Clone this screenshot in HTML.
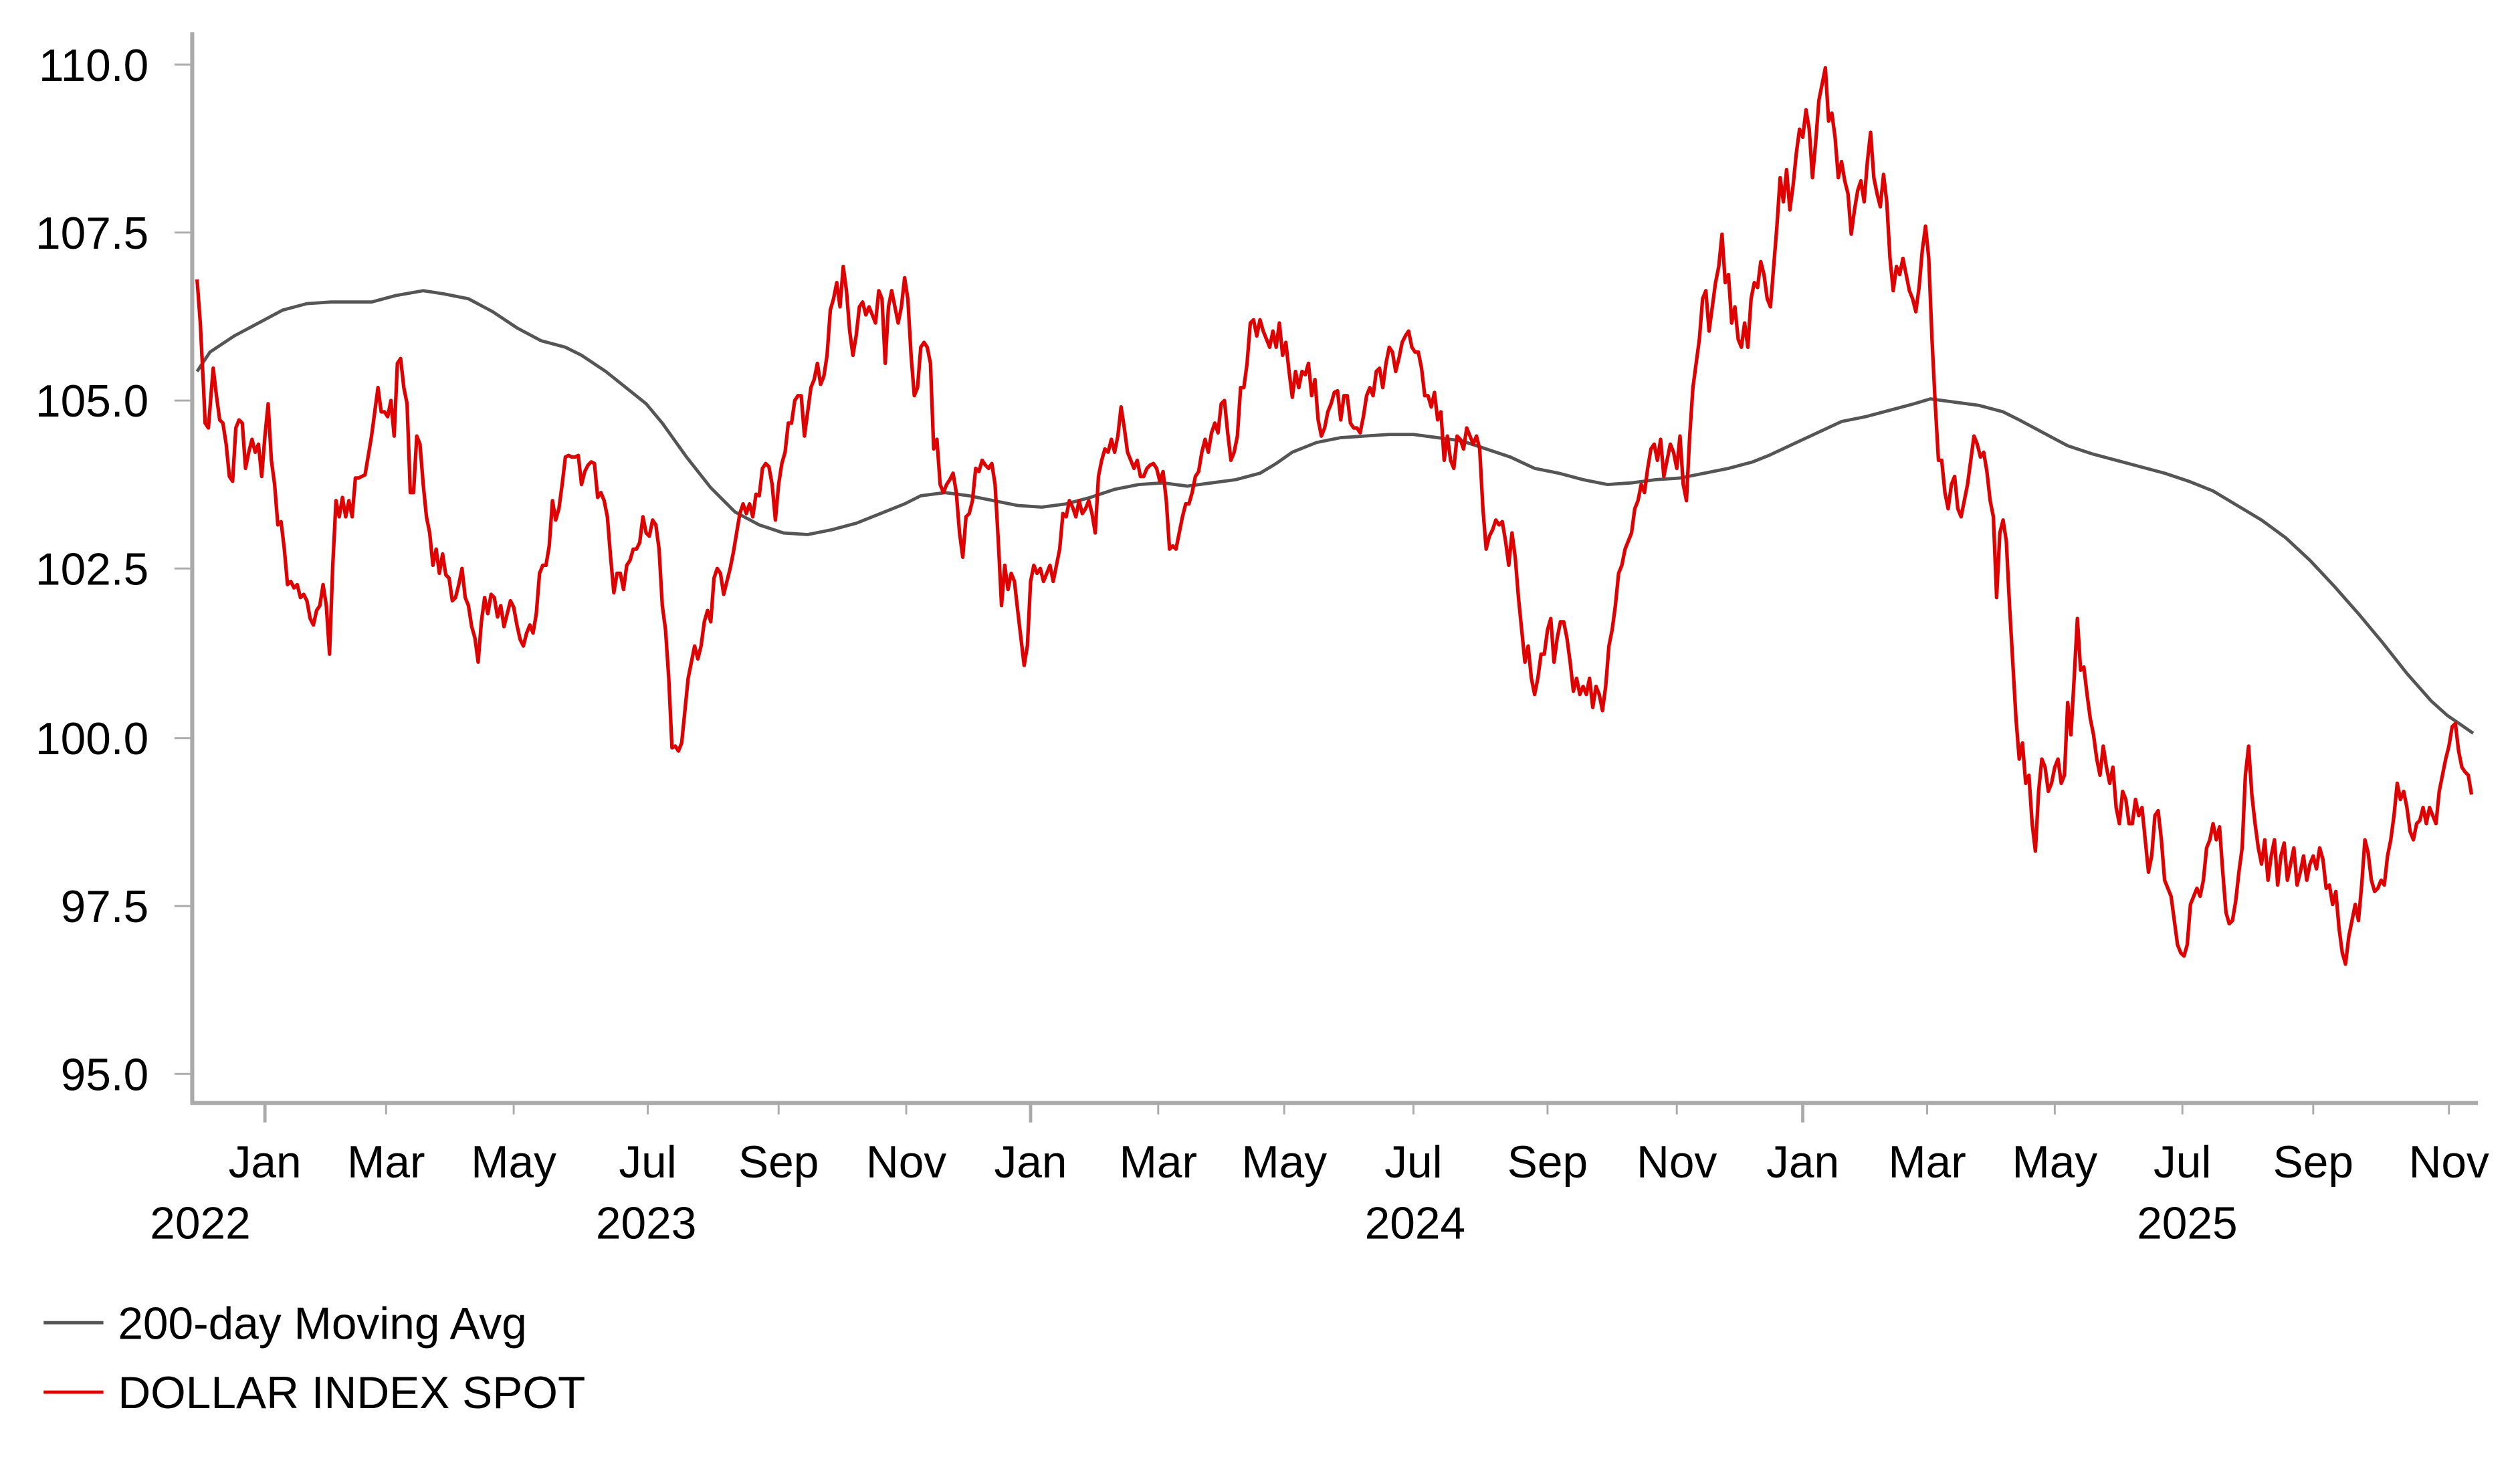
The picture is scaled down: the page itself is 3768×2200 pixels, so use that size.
<!DOCTYPE html>
<html><head><meta charset="utf-8"><style>
html,body{margin:0;padding:0;background:#fff;overflow:hidden;}
svg{display:block;}
text{font-family:"Liberation Sans",Arial,sans-serif;fill:#000;}
</style></head><body>
<svg width="3768" height="2200" viewBox="0 0 1560 910.83" preserveAspectRatio="none" xmlns="http://www.w3.org/2000/svg">
<rect width="1560" height="911" fill="#fff"/>
<g stroke="#aaa" stroke-width="2.5" fill="none">
<line x1="119" y1="20" x2="119" y2="684"/>
<line x1="118" y1="683" x2="1534" y2="683"/>
</g>
<g stroke="#aaa" stroke-width="1.2">
<line x1="108" y1="40" x2="119" y2="40"/><line x1="108" y1="144" x2="119" y2="144"/><line x1="108" y1="248" x2="119" y2="248"/><line x1="108" y1="352" x2="119" y2="352"/><line x1="108" y1="457" x2="119" y2="457"/><line x1="108" y1="561" x2="119" y2="561"/><line x1="108" y1="665" x2="119" y2="665"/>
<line x1="164" y1="683" x2="164" y2="695" stroke-width="2"/><line x1="239" y1="683" x2="239" y2="690"/><line x1="318" y1="683" x2="318" y2="690"/><line x1="401" y1="683" x2="401" y2="690"/><line x1="482" y1="683" x2="482" y2="690"/><line x1="561" y1="683" x2="561" y2="690"/>
<line x1="638" y1="683" x2="638" y2="695" stroke-width="2"/><line x1="717" y1="683" x2="717" y2="690"/><line x1="795" y1="683" x2="795" y2="690"/><line x1="875" y1="683" x2="875" y2="690"/><line x1="958" y1="683" x2="958" y2="690"/><line x1="1038" y1="683" x2="1038" y2="690"/>
<line x1="1116" y1="683" x2="1116" y2="695" stroke-width="2"/><line x1="1193" y1="683" x2="1193" y2="690"/><line x1="1272" y1="683" x2="1272" y2="690"/><line x1="1351" y1="683" x2="1351" y2="690"/><line x1="1432" y1="683" x2="1432" y2="690"/><line x1="1516" y1="683" x2="1516" y2="690"/>
</g>
<g font-size="28" text-anchor="end">
<text x="92" y="50">110.0</text><text x="92" y="154">107.5</text><text x="92" y="258">105.0</text><text x="92" y="362">102.5</text><text x="92" y="467">100.0</text><text x="92" y="571">97.5</text><text x="92" y="675">95.0</text>
</g>
<g font-size="28" text-anchor="middle">
<text x="164" y="729">Jan</text><text x="239" y="729">Mar</text><text x="318" y="729">May</text><text x="401" y="729">Jul</text><text x="482" y="729">Sep</text><text x="561" y="729">Nov</text>
<text x="638" y="729">Jan</text><text x="717" y="729">Mar</text><text x="795" y="729">May</text><text x="875" y="729">Jul</text><text x="958" y="729">Sep</text><text x="1038" y="729">Nov</text>
<text x="1116" y="729">Jan</text><text x="1193" y="729">Mar</text><text x="1272" y="729">May</text><text x="1351" y="729">Jul</text><text x="1432" y="729">Sep</text><text x="1516" y="729">Nov</text>
<text x="124" y="767">2022</text><text x="400" y="767">2023</text><text x="876" y="767">2024</text><text x="1354" y="767">2025</text>
</g>
<polyline fill="none" stroke="#555" stroke-width="2" points="122,230 130,218 145,208 160,200 175,192 190,188 205,187 230,187 245,183 262,180 275,182 290,185 305,193 320,203 335,211 350,215 360,220 375,230 390,242 400,250 410,262 425,283 440,302 455,317 470,325 485,330 500,331 515,328 530,324 545,318 560,312 570,307 585,305 600,307 615,310 630,313 645,314 660,312 675,308 690,303 705,300 720,299 735,301 750,299 765,297 780,293 790,287 800,280 815,274 830,271 845,270 860,269 875,269 890,271 905,273 920,278 935,283 950,290 965,293 980,297 995,300 1010,299 1025,297 1040,296 1055,293 1070,290 1085,286 1095,282 1110,275 1125,268 1140,261 1155,258 1170,254 1185,250 1195,247 1210,249 1225,251 1240,255 1250,260 1265,268 1280,276 1295,281 1310,285 1325,289 1340,293 1355,298 1370,304 1385,313 1400,322 1415,333 1430,347 1445,363 1460,380 1475,398 1490,417 1505,434 1515,443 1531,454"/>
<polyline fill="none" stroke="#e00000" stroke-width="2.2" stroke-linejoin="round" points="122,173 124,200 126,240 127,262 129,265 131,240 132,228 134,245 136,260 138,262 140,275 142,295 144,298 146,265 148,260 150,262 152,290 154,280 156,272 158,280 160,275 162,295 164,270 166,250 168,285 170,300 172,325 174,323 176,340 178,362 180,360 182,364 184,362 186,370 188,368 190,372 192,383 194,387 196,378 198,375 200,362 202,375 204,405 206,350 208,310 210,320 212,308 214,320 216,310 218,320 220,296 222,296 224,295 226,294 228,282 230,270 232,255 234,240 236,255 238,255 240,258 242,248 244,270 246,225 248,222 250,240 252,250 254,305 256,305 258,270 260,275 262,300 264,320 266,330 268,350 270,340 272,355 274,343 276,356 278,358 280,372 282,370 284,362 286,352 288,370 290,375 292,388 294,395 296,410 298,385 300,370 302,380 304,368 306,370 308,382 310,375 312,388 314,380 316,372 318,376 320,387 322,396 324,400 326,392 328,387 330,392 332,380 334,355 336,350 338,350 340,338 342,310 344,322 346,315 348,300 350,283 352,282 354,283 356,283 358,282 360,300 362,292 364,288 366,286 368,287 370,308 372,305 374,310 376,320 378,345 380,367 382,355 384,355 386,365 388,350 390,347 392,340 394,340 396,336 398,320 400,330 402,332 404,322 406,325 408,340 410,375 412,390 414,420 416,463 418,462 420,465 422,460 424,440 426,420 428,410 430,400 432,408 434,400 436,385 438,378 440,385 442,358 444,352 446,355 448,368 450,360 452,352 454,342 456,330 458,318 460,312 462,318 464,312 466,320 468,306 470,307 472,290 474,287 476,289 478,300 480,322 482,300 484,287 486,280 488,262 490,262 492,248 494,245 496,245 498,270 500,255 502,240 504,235 506,225 508,238 510,233 512,220 514,192 516,185 518,175 520,190 522,165 524,180 526,205 528,220 530,208 532,190 534,187 536,195 538,190 540,195 542,200 544,180 546,185 548,225 550,190 552,180 554,190 556,200 558,190 560,172 562,185 564,220 566,245 568,240 570,215 572,212 574,215 576,225 578,278 580,272 582,300 584,305 586,300 588,297 590,293 592,305 594,330 596,345 598,320 600,318 602,310 604,290 606,292 608,285 610,288 612,290 614,287 616,300 618,335 620,375 622,350 624,365 626,355 628,360 630,378 632,395 634,412 636,400 638,360 640,350 642,355 644,352 646,360 648,355 650,350 652,360 654,350 656,340 658,318 660,320 662,310 664,314 666,320 668,310 670,318 672,315 674,310 676,318 678,330 680,295 682,285 684,278 686,280 688,272 690,280 692,270 694,252 696,265 698,280 700,285 702,290 704,285 706,295 708,295 710,290 712,288 714,287 716,290 718,298 720,292 722,310 724,340 726,338 728,340 730,330 732,320 734,312 736,312 738,305 740,295 742,292 744,280 746,272 748,280 750,268 752,262 754,268 756,250 758,248 760,268 762,285 764,280 766,270 768,240 770,240 772,225 774,200 776,198 778,208 780,198 782,205 784,210 786,215 788,205 790,215 792,200 794,220 796,212 798,230 800,246 802,230 804,240 806,230 808,232 810,225 812,245 814,235 816,260 818,270 820,265 822,255 824,250 826,243 828,242 830,260 832,245 834,245 836,262 838,265 840,265 842,268 844,258 846,245 848,240 850,245 852,230 854,228 856,240 858,225 860,215 862,218 864,230 866,222 868,212 870,208 872,205 874,215 876,218 878,218 880,228 882,245 884,245 886,252 888,243 890,260 892,255 894,285 896,270 898,285 900,290 902,270 904,272 906,278 908,265 910,270 912,275 914,270 916,278 918,315 920,340 922,332 924,328 926,322 928,325 930,323 932,335 934,350 936,330 938,345 940,370 942,390 944,410 946,400 948,420 950,430 952,420 954,405 956,405 958,390 960,383 962,410 964,395 966,385 968,385 970,395 972,410 974,428 976,420 978,430 980,425 982,430 984,420 986,438 988,425 990,430 992,440 994,425 996,400 998,390 1000,375 1002,355 1004,350 1006,340 1008,335 1010,330 1012,315 1014,310 1016,300 1018,305 1020,290 1022,278 1024,275 1026,285 1028,272 1030,295 1032,285 1034,275 1036,280 1038,290 1040,270 1042,300 1044,310 1046,270 1048,240 1050,225 1052,210 1054,185 1056,180 1058,205 1060,190 1062,175 1064,165 1066,145 1068,175 1070,170 1072,200 1074,190 1076,210 1078,215 1080,200 1082,215 1084,185 1086,175 1088,178 1090,162 1092,170 1094,185 1096,190 1098,165 1100,140 1102,110 1104,125 1106,105 1108,130 1110,115 1112,95 1114,80 1116,85 1118,68 1120,80 1122,110 1124,88 1126,62 1128,52 1130,42 1132,75 1134,70 1136,85 1138,110 1140,100 1142,112 1144,120 1146,145 1148,130 1150,118 1152,112 1154,125 1156,100 1158,82 1160,110 1162,120 1164,128 1166,108 1168,125 1170,160 1172,180 1174,165 1176,170 1178,160 1180,170 1182,180 1184,185 1186,193 1188,178 1190,155 1192,140 1194,160 1196,210 1198,250 1200,285 1202,285 1204,305 1206,315 1208,300 1210,295 1212,315 1214,320 1216,310 1218,300 1220,285 1222,270 1224,275 1226,283 1228,280 1230,292 1232,310 1234,320 1236,370 1238,330 1240,322 1242,335 1244,375 1246,410 1248,445 1250,470 1252,460 1254,485 1256,480 1258,510 1260,527 1262,490 1264,470 1266,475 1268,490 1270,485 1272,475 1274,470 1276,485 1278,480 1280,435 1282,455 1284,420 1286,383 1288,415 1290,413 1292,430 1294,445 1296,455 1298,470 1300,480 1302,462 1304,475 1306,485 1308,475 1310,500 1312,510 1314,490 1316,495 1318,510 1320,510 1322,495 1324,505 1326,500 1328,520 1330,540 1332,530 1334,505 1336,502 1338,520 1340,545 1342,550 1344,555 1346,570 1348,585 1350,590 1352,592 1354,585 1356,560 1358,555 1360,550 1362,555 1364,545 1366,525 1368,520 1370,510 1372,520 1374,512 1376,540 1378,565 1380,572 1382,570 1384,558 1386,540 1388,525 1390,480 1392,462 1394,492 1396,510 1398,525 1400,535 1402,520 1404,545 1406,530 1408,520 1410,548 1412,530 1414,522 1416,545 1418,535 1420,525 1422,548 1424,540 1426,530 1428,545 1430,535 1432,530 1434,538 1436,525 1438,532 1440,550 1442,548 1444,560 1446,552 1448,575 1450,590 1452,597 1454,580 1456,570 1458,560 1460,570 1462,548 1464,520 1466,528 1468,545 1470,552 1472,550 1474,545 1476,548 1478,530 1480,520 1482,505 1484,485 1486,495 1488,490 1490,500 1492,515 1494,520 1496,510 1498,508 1500,500 1502,510 1504,500 1506,505 1508,510 1510,490 1512,480 1514,470 1516,462 1518,450 1520,448 1522,465 1524,475 1526,478 1528,480 1530,492"/>
<line x1="27" y1="819" x2="64" y2="819" stroke="#555" stroke-width="2"/>
<line x1="27" y1="862" x2="64" y2="862" stroke="#e00000" stroke-width="2"/>
<g font-size="28">
<text x="73" y="829">200-day Moving Avg</text>
<text x="73" y="872">DOLLAR INDEX SPOT</text>
</g>
</svg>
</body></html>
